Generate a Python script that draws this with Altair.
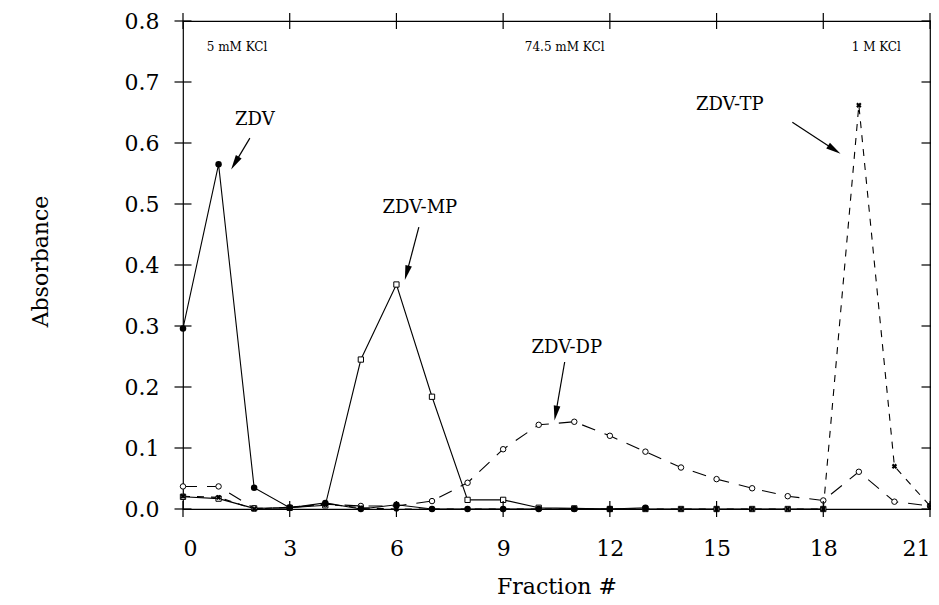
import math
import altair as alt
import pandas as pd

# ---- data ----
zdv_x = list(range(0, 14))
zdv = [0.296, 0.565, 0.035, 0.002, 0.010, 0.000, 0.007, 0.000, 0.000, 0.000, 0.000, 0.000, 0.000, 0.002]

mp_x = list(range(0, 19))
zdv_mp = [0.020, 0.017, 0.001, 0.002, 0.006, 0.245, 0.368, 0.184, 0.015, 0.015, 0.002, 0.001,
          0.000, 0.000, 0.000, 0.000, 0.000, 0.000, 0.000]

dp_x = list(range(0, 22))
zdv_dp = [0.037, 0.037, 0.001, 0.002, 0.008, 0.005, 0.005, 0.013, 0.043, 0.098, 0.138, 0.143,
          0.120, 0.094, 0.068, 0.049, 0.034, 0.021, 0.014, 0.061, 0.012, 0.005]

tp_x = list(range(0, 22))
zdv_tp = [0.021, 0.019, 0.000, 0.003, 0.008, 0.002, 0.000, 0.000, 0.000, 0.000, 0.000, 0.000,
          0.000, 0.000, 0.000, 0.000, 0.000, 0.000, 0.000, 0.662, 0.070, 0.005]

x_ticks = [0, 3, 6, 9, 12, 15, 18, 21]
y_ticks = [0.0, 0.1, 0.2, 0.3, 0.4, 0.5, 0.6, 0.7, 0.8]

peak_labels = ["ZDV", "ZDV-MP", "ZDV-DP", "ZDV-TP"]
label_x = [2.02, 6.66, 10.79, 15.37]
label_y = [0.638, 0.493, 0.264, 0.662]
arrow_x0 = [1.88, 6.63, 10.73, 17.13]
arrow_y0 = [0.608, 0.462, 0.241, 0.634]
arrow_x1 = [1.46, 6.29, 10.48, 18.31]
arrow_y1 = [0.567, 0.387, 0.157, 0.589]

kcl_labels = ["5 mM KCl", "74.5 mM KCl", "1 M KCl"]
kcl_x = [1.52, 10.73, 19.49]
kcl_y = [0.757, 0.757, 0.757]

W, H = 747, 488
XMAX, YMAX = 21, 0.8
FONT = "DejaVu Serif"

xs = alt.Scale(domain=[0, XMAX], nice=False, zero=False)
ys = alt.Scale(domain=[0, YMAX], nice=False, zero=False)

def series_df(xv, yv):
    return pd.DataFrame({"f": xv, "a": yv})

base_x = alt.X("f:Q", scale=xs,
               axis=alt.Axis(values=x_ticks, format="d", ticks=False, domain=False, grid=False,
                             labelFont=FONT, labelFontSize=22, labelColor="black", labelPadding=29,
                             title="Fraction #", titleFont=FONT, titleFontSize=22,
                             titleFontWeight="normal", titleColor="black",
                             titleY=77, titleBaseline="middle"))
base_y = alt.Y("a:Q", scale=ys,
               axis=alt.Axis(values=y_ticks, format=".1f", ticks=False, domain=False, grid=False,
                             labelFont=FONT, labelFontSize=22, labelColor="black", labelPadding=24,
                             title="Absorbance", titleFont=FONT, titleFontSize=22,
                             titleFontWeight="normal", titleColor="black",
                             titleAngle=270, titleX=-143, titleY=240,
                             titleAlign="center", titleBaseline="middle"))

def line_layer(df, dash, first=False):
    enc = dict(x=base_x, y=base_y) if first else dict(x=alt.X("f:Q", scale=xs), y=alt.Y("a:Q", scale=ys))
    kw = dict(color="black", strokeWidth=1.1)
    if dash:
        kw["strokeDash"] = dash
    return alt.Chart(df).mark_line(**kw).encode(**enc)

def point_layer(df, **kw):
    return alt.Chart(df).mark_point(**kw).encode(x=alt.X("f:Q", scale=xs), y=alt.Y("a:Q", scale=ys))

df_zdv = series_df(zdv_x, zdv)
df_mp = series_df(mp_x, zdv_mp)
df_dp = series_df(dp_x, zdv_dp)
df_tp = series_df(tp_x, zdv_tp)

layers = [
    line_layer(df_mp, None, first=True),
    line_layer(df_dp, [14, 10]),
    line_layer(df_tp, [7, 7]),
    line_layer(df_zdv, None),
    point_layer(df_mp, shape="square", size=28, filled=True, fill="white", stroke="black", strokeWidth=1, opacity=1),
    point_layer(df_dp, shape="circle", size=30, filled=True, fill="white", stroke="black", strokeWidth=1, opacity=1),
    point_layer(df_tp, shape="cross", size=30, filled=True, color="black", angle=45, opacity=1),
    point_layer(df_zdv, shape="circle", size=42, filled=True, color="black", opacity=1),
]

# ---- frame ticks (crossing the frame) ----
ytick_df = pd.DataFrame({"f": [0] * len(y_ticks) + [XMAX] * len(y_ticks), "a": y_ticks + y_ticks})
xtick_df = pd.DataFrame({"f": x_ticks + x_ticks, "a": [0.0] * len(x_ticks) + [YMAX] * len(x_ticks)})
layers.append(alt.Chart(ytick_df).mark_tick(orient="horizontal", size=17, thickness=1.2, color="black", opacity=1)
              .encode(x=alt.X("f:Q", scale=xs), y=alt.Y("a:Q", scale=ys)))
layers.append(alt.Chart(xtick_df).mark_tick(orient="vertical", size=16, thickness=1.2, color="black", opacity=1)
              .encode(x=alt.X("f:Q", scale=xs), y=alt.Y("a:Q", scale=ys)))

# ---- annotations ----
pxx = W / XMAX
pxy = H / YMAX
angles = []
for x0, y0, x1, y1 in zip(arrow_x0, arrow_y0, arrow_x1, arrow_y1):
    dx = (x1 - x0) * pxx
    dy = -(y1 - y0) * pxy
    angles.append(math.degrees(math.atan2(dx, -dy)) % 360)

ann_df = pd.DataFrame({"label": peak_labels, "lx": label_x, "ly": label_y,
                       "x0": arrow_x0, "y0": arrow_y0, "x1": arrow_x1, "y1": arrow_y1, "ang": angles})

layers.append(alt.Chart(ann_df).mark_text(font=FONT, fontSize=18, color="black", baseline="middle", align="center")
              .encode(x=alt.X("lx:Q", scale=xs), y=alt.Y("ly:Q", scale=ys), text="label:N"))
layers.append(alt.Chart(ann_df).mark_rule(color="black", strokeWidth=1.2)
              .encode(x=alt.X("x0:Q", scale=xs), y=alt.Y("y0:Q", scale=ys),
                      x2="x1:Q", y2="y1:Q"))
layers.append(alt.Chart(ann_df).mark_point(shape="M0,-1L0.45,1L-0.45,1Z", size=220, filled=True,
                                           color="black", opacity=1)
              .encode(x=alt.X("x1:Q", scale=xs), y=alt.Y("y1:Q", scale=ys),
                      angle=alt.Angle("ang:Q", scale=None)))

kcl_df = pd.DataFrame({"label": kcl_labels, "x": kcl_x, "y": kcl_y})
layers.append(alt.Chart(kcl_df).mark_text(font=FONT, fontSize=12, color="black", baseline="middle", align="center")
              .encode(x=alt.X("x:Q", scale=xs), y=alt.Y("y:Q", scale=ys), text="label:N"))

chart = alt.layer(*layers).properties(
    width=W, height=H,
    autosize=alt.AutoSizeParams(type="none"),
    padding={"left": 175, "top": 13, "right": 1, "bottom": 88},
    background="white",
).configure_view(stroke="black", strokeWidth=1.2)

chart.save("out.html", embed_options={"renderer": "svg", "actions": False})
